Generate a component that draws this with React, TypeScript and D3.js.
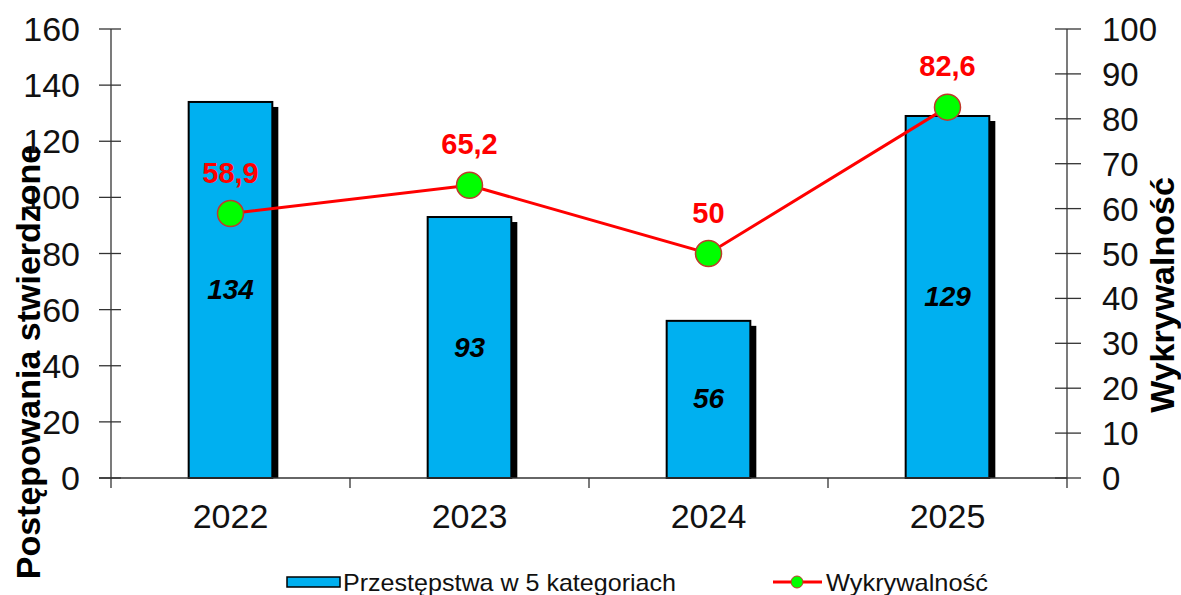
import { useEffect, useRef } from 'react';
import * as d3 from 'd3';

const years = ['2022', '2023', '2024', '2025'];
const cases = [134, 93, 56, 129];
const detection = [58.9, 65.2, 50, 82.6];
const leftTicks = [0, 20, 40, 60, 80, 100, 120, 140, 160];
const rightTicks = [0, 10, 20, 30, 40, 50, 60, 70, 80, 90, 100];

const W = 1181;
const H = 595;
const margin = { top: 29, right: 114, bottom: 117, left: 111 };
const FONT = '"Liberation Sans", Arial, sans-serif';

export default function App() {
  const svgRef = useRef<SVGSVGElement>(null);

  useEffect(() => {
    document.body.style.margin = '0';
    if (!svgRef.current) return;
    const svg = d3.select(svgRef.current);
    svg.selectAll('*').remove();

    const x0 = margin.left;
    const x1 = W - margin.right;
    const y0 = H - margin.bottom;
    const y1 = margin.top;

    const x = d3.scaleBand<string>().domain(years).range([x0, x1]).padding(0);
    const yL = d3.scaleLinear().domain([0, 160]).range([y0, y1]);
    const yR = d3.scaleLinear().domain([0, 100]).range([y0, y1]);
    const cx = (d: string) => (x(d) ?? 0) + x.bandwidth() / 2;
    const barW = x.bandwidth() * 0.35;

    const g = svg.append('g').attr('font-family', FONT);

    // bars with shadow
    years.forEach((yr, i) => {
      const bx = cx(yr) - barW / 2;
      const top = yL(cases[i]);
      g.append('rect')
        .attr('x', bx + 6)
        .attr('y', top + 5)
        .attr('width', barW)
        .attr('height', y0 - top - 5)
        .attr('fill', '#000');
      g.append('rect')
        .attr('x', bx)
        .attr('y', top)
        .attr('width', barW)
        .attr('height', y0 - top)
        .attr('fill', '#00b0f0')
        .attr('stroke', '#000')
        .attr('stroke-width', 2);
      g.append('text')
        .attr('x', cx(yr))
        .attr('y', (top + y0) / 2 + 9)
        .attr('text-anchor', 'middle')
        .attr('font-size', 28)
        .attr('font-weight', 'bold')
        .attr('font-style', 'italic')
        .attr('fill', '#000')
        .text(cases[i]);
    });

    // axes
    const axisColor = '#333';
    g.append('line')
      .attr('x1', x0).attr('x2', x0).attr('y1', y1).attr('y2', y0)
      .attr('stroke', axisColor).attr('stroke-width', 1.3);
    g.append('line')
      .attr('x1', x1).attr('x2', x1).attr('y1', y1).attr('y2', y0 + 10)
      .attr('stroke', axisColor).attr('stroke-width', 1.3);
    g.append('line')
      .attr('x1', x0 - 12).attr('x2', x1).attr('y1', y0).attr('y2', y0)
      .attr('stroke', axisColor).attr('stroke-width', 1.3);
    g.append('line')
      .attr('x1', x0).attr('x2', x0).attr('y1', y0).attr('y2', y0 + 10)
      .attr('stroke', axisColor).attr('stroke-width', 1.3);

    leftTicks.forEach((t) => {
      g.append('line')
        .attr('x1', x0 - 12).attr('x2', x0 + 10)
        .attr('y1', yL(t)).attr('y2', yL(t))
        .attr('stroke', axisColor).attr('stroke-width', 1.3);
      g.append('text')
        .attr('x', x0 - 31)
        .attr('y', yL(t) + 12)
        .attr('text-anchor', 'end')
        .attr('font-size', 34)
        .attr('fill', '#111')
        .text(t);
    });
    rightTicks.forEach((t) => {
      g.append('line')
        .attr('x1', x1 - 12).attr('x2', x1 + 14)
        .attr('y1', yR(t)).attr('y2', yR(t))
        .attr('stroke', axisColor).attr('stroke-width', 1.3);
      g.append('text')
        .attr('x', x1 + 35)
        .attr('y', yR(t) + 12)
        .attr('font-size', 33)
        .attr('fill', '#111')
        .text(t);
    });
    years.slice(1).forEach((yr) => {
      const px = x(yr) ?? 0;
      g.append('line')
        .attr('x1', px).attr('x2', px).attr('y1', y0).attr('y2', y0 + 10)
        .attr('stroke', axisColor).attr('stroke-width', 1.3);
    });
    years.forEach((yr) => {
      g.append('text')
        .attr('x', cx(yr))
        .attr('y', y0 + 50)
        .attr('text-anchor', 'middle')
        .attr('font-size', 34)
        .attr('fill', '#111')
        .text(yr);
    });

    // line series
    const line = d3
      .line<number>()
      .x((_, i) => cx(years[i]))
      .y((d) => yR(d));
    g.append('path')
      .datum(detection)
      .attr('d', line)
      .attr('fill', 'none')
      .attr('stroke', '#ff0000')
      .attr('stroke-width', 3);
    detection.forEach((v, i) => {
      g.append('circle')
        .attr('cx', cx(years[i]))
        .attr('cy', yR(v))
        .attr('r', 13)
        .attr('fill', '#00ff00')
        .attr('stroke', '#c0392b')
        .attr('stroke-width', 1.5);
      g.append('text')
        .attr('x', cx(years[i]))
        .attr('y', yR(v) - 31)
        .attr('text-anchor', 'middle')
        .attr('font-size', 29)
        .attr('font-weight', 'bold')
        .attr('fill', '#ff0000')
        .text(String(v).replace('.', ','));
    });

    // axis titles
    g.append('text')
      .attr('transform', `translate(40,362) rotate(-90)`)
      .attr('text-anchor', 'middle')
      .attr('font-size', 34)
      .attr('font-weight', 'bold')
      .attr('fill', '#000')
      .text('Postępowania stwierdzone');
    g.append('text')
      .attr('transform', `translate(1174,295) rotate(-90)`)
      .attr('text-anchor', 'middle')
      .attr('font-size', 34)
      .attr('font-weight', 'bold')
      .attr('fill', '#000')
      .text('Wykrywalność');

    // legend
    const ly = 582;
    g.append('rect')
      .attr('x', 287).attr('y', ly - 5).attr('width', 53).attr('height', 10)
      .attr('fill', '#00b0f0').attr('stroke', '#000').attr('stroke-width', 1.5);
    g.append('text')
      .attr('x', 343).attr('y', ly + 9)
      .attr('font-size', 24)
      .attr('fill', '#111')
      .attr('textLength', 333)
      .attr('lengthAdjust', 'spacingAndGlyphs')
      .text('Przestępstwa w 5 kategoriach');
    g.append('line')
      .attr('x1', 773).attr('x2', 822).attr('y1', ly).attr('y2', ly)
      .attr('stroke', '#ff0000').attr('stroke-width', 3);
    g.append('circle')
      .attr('cx', 797).attr('cy', ly).attr('r', 6)
      .attr('fill', '#00ff00').attr('stroke', '#c0392b').attr('stroke-width', 1);
    g.append('text')
      .attr('x', 826).attr('y', ly + 9)
      .attr('font-size', 24)
      .attr('fill', '#111')
      .attr('textLength', 162)
      .attr('lengthAdjust', 'spacingAndGlyphs')
      .text('Wykrywalność');
  }, []);

  return <svg ref={svgRef} width={W} height={H} style={{ display: 'block', background: '#fff' }} />;
}
